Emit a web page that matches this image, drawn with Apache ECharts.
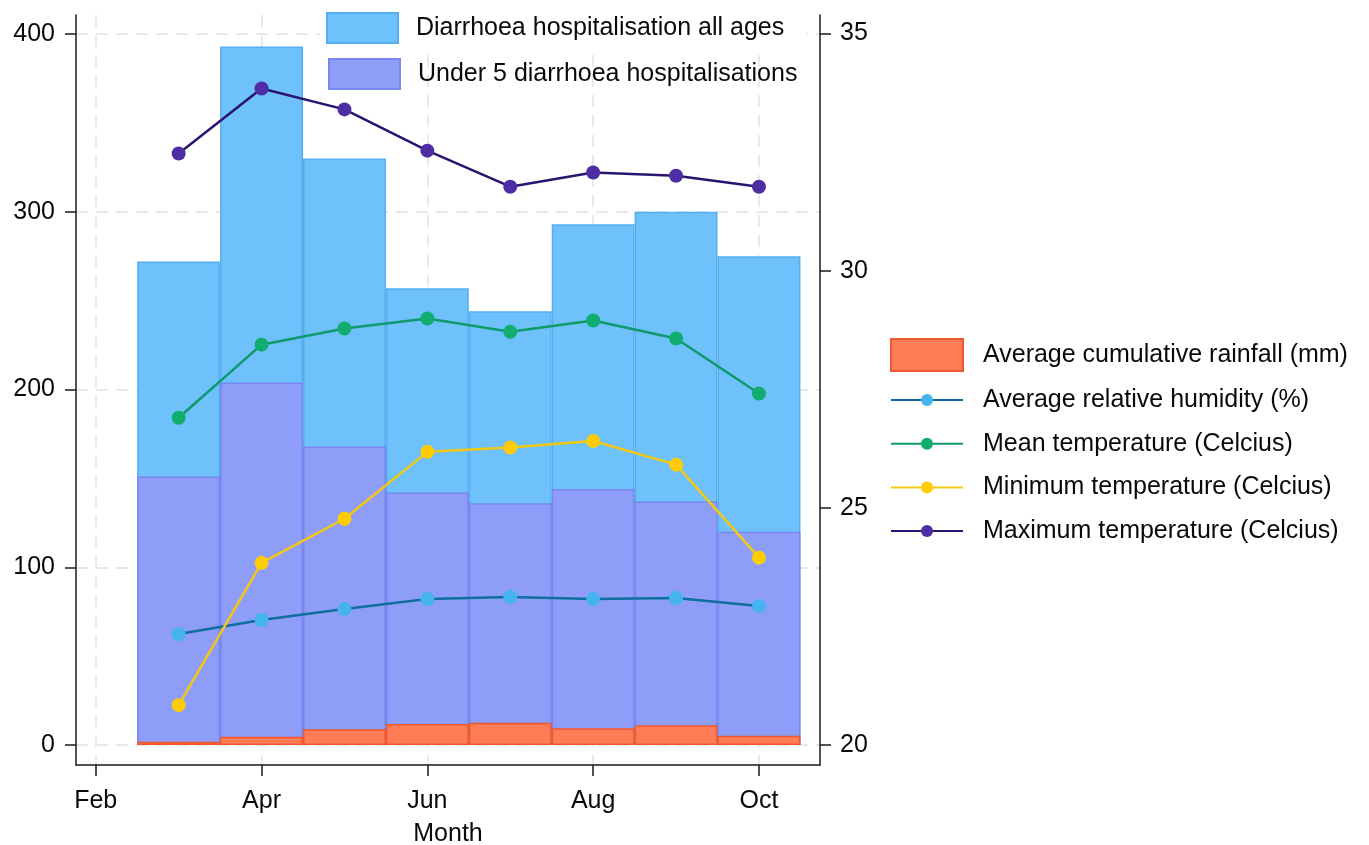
<!DOCTYPE html>
<html><head><meta charset="utf-8">
<script src="https://cdn.jsdelivr.net/npm/echarts@6/dist/echarts.min.js"></script>
<style>html,body{margin:0;padding:0;background:#fff}#c{width:1369px;height:845px}</style>
</head><body><div id="c"></div>
<script>
// ---- data ----
const months = [3, 4, 5, 6, 7, 8, 9, 10];
const allAges = [272, 393, 330, 257, 244, 293, 300, 275];
const under5 = [151, 204, 168, 142, 136, 144, 137, 120];
const rainfall = [1.9, 4.7, 8.8, 11.8, 12.5, 9.4, 11.1, 5.2];
const humidity = [62.4, 70.3, 76.5, 82.1, 83.3, 82.1, 82.7, 78.2];
const meanTemp = [26.90, 28.44, 28.78, 28.99, 28.71, 28.95, 28.57, 27.41];
const minTemp = [20.84, 23.84, 24.77, 26.18, 26.27, 26.41, 25.91, 23.95];
const maxTemp = [32.47, 33.84, 33.40, 32.53, 31.77, 32.07, 32.00, 31.77];
const xTickValues = [2, 4, 6, 8, 10];
const xTickLabels = ['Feb', 'Apr', 'Jun', 'Aug', 'Oct'];
const leftTicks = [0, 100, 200, 300, 400];
const rightTicks = [20, 25, 30, 35];

const N_ALL = 'Diarrhoea hospitalisation all ages';
const N_U5 = 'Under 5 diarrhoea hospitalisations';
const N_RAIN = 'Average cumulative rainfall (mm)';
const N_HUM = 'Average relative humidity (%)';
const N_MEAN = 'Mean temperature (Celcius)';
const N_MIN = 'Minimum temperature (Celcius)';
const N_MAX = 'Maximum temperature (Celcius)';

const pairs = arr => months.map((m, i) => [m, arr[i]]);
const FONT = 'Liberation Sans, Arial, sans-serif';
const TXT = '#0a0a0a';

const chart = echarts.init(document.getElementById('c'), null, {renderer: 'canvas'});

function barSeries(name, data, fill, border, z) {
  return {
    name, type: 'bar', xAxisIndex: 0, yAxisIndex: 0, data: pairs(data),
    barWidth: '100%', barGap: '-100%', z,
    itemStyle: {color: fill, borderColor: border, borderWidth: 1.5},
    emphasis: {disabled: true}
  };
}
function lineSeries(name, data, yIdx, lineColor, dotColor) {
  return {
    name, type: 'line', xAxisIndex: 0, yAxisIndex: yIdx, data: pairs(data),
    symbol: 'circle', symbolSize: 14, z: 5,
    lineStyle: {color: lineColor, width: 2.5},
    itemStyle: {color: dotColor, borderColor: dotColor, borderWidth: 0},
    emphasis: {disabled: true}
  };
}

const legendText = {fontFamily: FONT, fontSize: 25, color: TXT};

chart.setOption({
  animation: false,
  backgroundColor: '#fff',
  grid: {left: 76, right: 549, top: 15, bottom: 80, containLabel: false, outerBoundsMode: 'none'},
  xAxis: {
    type: 'value', min: 1.762, max: 10.736,
    name: 'Month', nameLocation: 'middle', nameGap: 57,
    nameTextStyle: {fontFamily: FONT, fontSize: 25, color: TXT},
    axisLine: {show: true, onZero: false, lineStyle: {color: '#1a1a1a', width: 1.5}},
    axisTick: {show: true, length: 11, customValues: xTickValues, lineStyle: {color: '#1a1a1a', width: 1.5}},
    axisLabel: {
      customValues: xTickValues, margin: 24, fontFamily: FONT, fontSize: 25, color: TXT,
      formatter: v => xTickLabels[xTickValues.indexOf(v)] ?? ''
    },
    splitLine: {show: true, lineStyle: {color: '#e2e2e2', type: [12, 8], width: 1.5}}
  },
  yAxis: [
    {
      type: 'value', position: 'left', min: -11.25, max: 410.69,
      axisLine: {show: true, onZero: false, lineStyle: {color: '#1a1a1a', width: 1.5}},
      axisTick: {show: true, length: 11, customValues: leftTicks, lineStyle: {color: '#1a1a1a', width: 1.5}},
      axisLabel: {customValues: leftTicks, margin: 21, fontFamily: FONT, fontSize: 25, color: TXT},
      splitLine: {show: true, lineStyle: {color: '#e2e2e2', type: [12, 8], width: 1.5}}
    },
    {
      type: 'value', position: 'right', min: 19.578, max: 35.39,
      axisLine: {show: true, onZero: false, lineStyle: {color: '#1a1a1a', width: 1.5}},
      axisTick: {show: true, length: 11, customValues: rightTicks, lineStyle: {color: '#1a1a1a', width: 1.5}},
      axisLabel: {customValues: rightTicks, margin: 20, fontFamily: FONT, fontSize: 25, color: TXT},
      splitLine: {show: false}
    }
  ],
  legend: [
    {
      data: [N_ALL], left: 320, top: 8, padding: [4, 22, 4, 6], backgroundColor: '#fff',
      orient: 'vertical', icon: 'rect', itemWidth: 71, itemHeight: 30,
      textStyle: Object.assign({padding: [0, 0, 0, 13]}, legendText),
      selectedMode: false
    },
    {
      data: [N_U5], left: 328, top: 58, padding: 0,
      orient: 'vertical', icon: 'rect', itemWidth: 71, itemHeight: 30,
      textStyle: Object.assign({padding: [0, 0, 0, 13]}, legendText),
      selectedMode: false
    },
    {
      data: [N_RAIN], left: 890, top: 338, padding: 0,
      orient: 'vertical', icon: 'rect', itemWidth: 72, itemHeight: 32,
      textStyle: Object.assign({padding: [0, 0, 0, 15]}, legendText),
      selectedMode: false
    },
    {
      data: [N_HUM, N_MEAN, N_MIN, N_MAX], left: 890, top: 387.5, padding: 0,
      orient: 'vertical', itemWidth: 72, itemHeight: 15, itemGap: 18.7,
      textStyle: Object.assign({padding: [0, 0, 0, 15]}, legendText),
      selectedMode: false
    }
  ],
  series: [
    barSeries(N_ALL, allAges, '#6EC1FA', '#55AEF2', 2),
    barSeries(N_U5, under5, '#8E9EF8', '#7886F2', 3),
    barSeries(N_RAIN, rainfall, '#FE7D56', '#F0582E', 4),
    lineSeries(N_HUM, humidity, 0, '#0E6E9E', '#45B3F0'),
    lineSeries(N_MEAN, meanTemp, 1, '#0E9A6C', '#10AD6F'),
    lineSeries(N_MIN, minTemp, 1, '#F3C812', '#FFCC05'),
    lineSeries(N_MAX, maxTemp, 1, '#2A1470', '#4E2DA4')
  ]
});
</script>
</body></html>
